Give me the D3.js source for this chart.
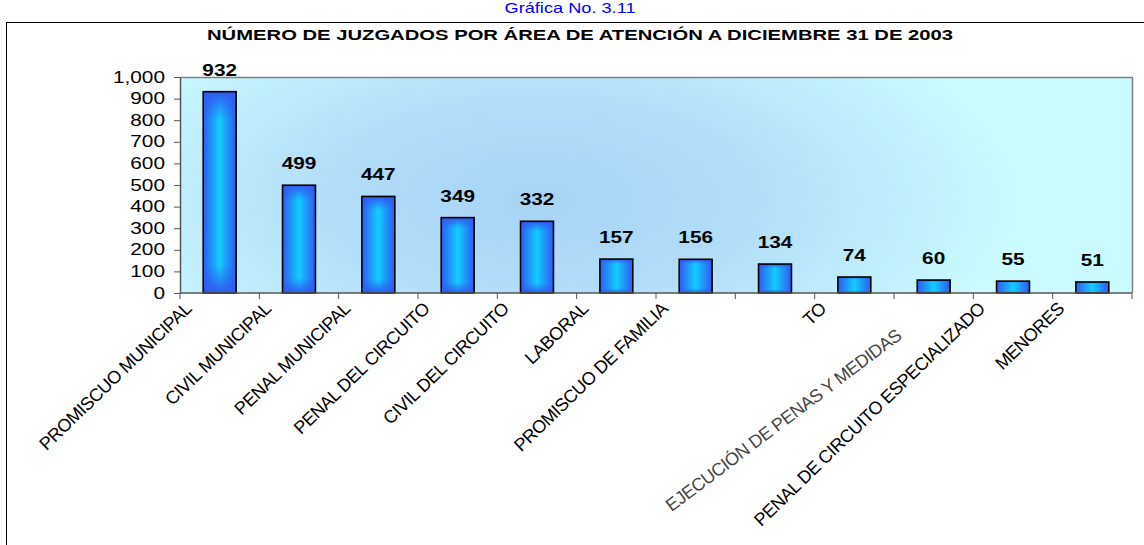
<!DOCTYPE html>
<html>
<head>
<meta charset="utf-8">
<script src="https://cdn.jsdelivr.net/npm/d3@7"></script>
<style>
  html, body { margin: 0; padding: 0; background: #fff; }
  svg { display: block; font-family: Arial, "Liberation Sans", sans-serif; }
</style>
</head>
<body>
<div id="chart"></div>
<script>
// data
var categories = [
    "PROMISCUO MUNICIPAL", "CIVIL MUNICIPAL", "PENAL MUNICIPAL", "PENAL DEL CIRCUITO",
    "CIVIL DEL CIRCUITO", "LABORAL", "PROMISCUO DE FAMILIA", "FAMILIA",
    "PROMISCUO DEL CIRCUITO", "EJECUCIÓN DE PENAS Y MEDIDAS",
    "PENAL DE CIRCUITO ESPECIALIZADO", "MENORES"
];
var values = [932, 499, 447, 349, 332, 157, 156, 134, 74, 60, 55, 51];
var yTicks = [0, 100, 200, 300, 400, 500, 600, 700, 800, 900, 1000];
var title = "NÚMERO DE JUZGADOS POR ÁREA DE ATENCIÓN A DICIEMBRE 31 DE 2003";
var caption = "Gráfica No. 3.11";

var width = 1144, height = 545;
var plot = { left: 180, right: 1132, top: 77, bottom: 293 };
var stretch = 1.3;   // the original picture is stretched sideways

var svg = d3.select("#chart").append("svg")
    .attr("width", width)
    .attr("height", height);

var defs = svg.append("defs");

/* plot background: cyan with a soft blue cloud */
var bg = defs.append("radialGradient")
    .attr("id", "bgGrad")
    .attr("gradientUnits", "userSpaceOnUse")
    .attr("cx", 540).attr("cy", 200).attr("r", 320)
    .attr("gradientTransform", "translate(540,200) scale(1.5,0.7) translate(-540,-200)");
bg.append("stop").attr("offset", "0%").attr("stop-color", "#a7d3f6");
bg.append("stop").attr("offset", "45%").attr("stop-color", "#b3def9");
bg.append("stop").attr("offset", "100%").attr("stop-color", "#cafbff");

/* bar fill: blue edges, cyan middle */
var barH = defs.append("linearGradient").attr("id", "barH")
    .attr("x1", 0).attr("x2", 1).attr("y1", 0).attr("y2", 0);
barH.append("stop").attr("offset", "0%").attr("stop-color", "#2f5af0");
barH.append("stop").attr("offset", "50%").attr("stop-color", "#12cdfe");
barH.append("stop").attr("offset", "100%").attr("stop-color", "#2f5af0");

var barV = defs.append("linearGradient").attr("id", "barV")
    .attr("x1", 0).attr("x2", 0).attr("y1", 0).attr("y2", 1);
barV.append("stop").attr("offset", "0%").attr("stop-color", "#2f5af0").attr("stop-opacity", 1);
barV.append("stop").attr("offset", "14%").attr("stop-color", "#2f5af0").attr("stop-opacity", 0);
barV.append("stop").attr("offset", "86%").attr("stop-color", "#2f5af0").attr("stop-opacity", 0);
barV.append("stop").attr("offset", "100%").attr("stop-color", "#2f5af0").attr("stop-opacity", 1);

/* frame */
svg.append("line").attr("x1", 6).attr("x2", width).attr("y1", 22.5).attr("y2", 22.5)
    .attr("stroke", "#000");
svg.append("line").attr("x1", 6.5).attr("x2", 6.5).attr("y1", 22).attr("y2", height)
    .attr("stroke", "#000");

/* caption above the frame */
svg.append("text")
    .attr("transform", "translate(570,13) scale(" + stretch + ",1)")
    .attr("text-anchor", "middle")
    .attr("font-size", 14)
    .attr("fill", "#0000ff")
    .text(caption);

svg.append("text")
    .attr("x", 580).attr("y", 40)
    .attr("text-anchor", "middle")
    .attr("font-size", 14)
    .attr("font-weight", "bold")
    .attr("textLength", 746)
    .attr("lengthAdjust", "spacingAndGlyphs")
    .text(title);

var x = d3.scaleBand()
    .domain(categories)
    .range([plot.left, plot.right])
    .padding(0);

var y = d3.scaleLinear()
    .domain([0, 1000])
    .range([plot.bottom, plot.top]);

svg.append("rect")
    .attr("x", plot.left).attr("y", plot.top)
    .attr("width", plot.right - plot.left)
    .attr("height", plot.bottom - plot.top)
    .attr("fill", "url(#bgGrad)");

svg.append("path")
    .attr("d", "M" + plot.left + "," + (plot.top + 0.5) + "H" + (plot.right + 0.5) + "V" + plot.bottom)
    .attr("fill", "none")
    .attr("stroke", "#808080")
    .attr("stroke-width", 1.5);

var barW = x.bandwidth() * 0.415;
var data = categories.map((c, i) => ({ cat: c, val: values[i] }));

var bars = svg.selectAll("g.bar")
    .data(data)
    .enter()
    .append("g")
    .attr("class", "bar");

bars.append("rect")
    .attr("x", d => x(d.cat) + (x.bandwidth() - barW) / 2)
    .attr("y", d => y(d.val))
    .attr("width", barW)
    .attr("height", d => y(0) - y(d.val))
    .attr("fill", "url(#barH)");

bars.append("rect")
    .attr("x", d => x(d.cat) + (x.bandwidth() - barW) / 2)
    .attr("y", d => y(d.val))
    .attr("width", barW)
    .attr("height", d => y(0) - y(d.val))
    .attr("fill", "url(#barV)")
    .attr("stroke", "#000")
    .attr("stroke-width", 1.6);

bars.append("text")
    .attr("transform", d => "translate(" + (x(d.cat) + x.bandwidth() / 2) + "," + (y(d.val) - 16) + ") scale(" + stretch + ",1)")
    .attr("text-anchor", "middle")
    .attr("font-size", 16)
    .attr("font-weight", "bold")
    .text(d => d3.format(",")(d.val));

/* y axis */
var yAxis = d3.axisLeft(y).tickValues(yTicks).tickSize(6).tickSizeOuter(0).tickFormat(d3.format(","));
var gy = svg.append("g")
    .attr("transform", "translate(" + plot.left + ",0)")
    .call(yAxis);
gy.select(".domain").attr("stroke", "#555").attr("stroke-width", 1.5);
gy.selectAll(".tick line").attr("stroke", "#555");
gy.selectAll(".tick text")
    .attr("font-size", 16)
    .attr("font-family", "Arial, 'Liberation Sans', sans-serif")
    .attr("fill", "#000")
    .attr("x", -15 / stretch)
    .attr("transform", "scale(" + stretch + ",1)");

/* x axis: line and ticks between categories */
var bounds = categories.map(c => x(c)).concat([plot.right]);
svg.append("line")
    .attr("x1", plot.left).attr("x2", plot.right)
    .attr("y1", plot.bottom).attr("y2", plot.bottom)
    .attr("stroke", "#555").attr("stroke-width", 1.5);
svg.selectAll("line.xtick")
    .data(bounds)
    .enter()
    .append("line")
    .attr("class", "xtick")
    .attr("x1", d => d).attr("x2", d => d)
    .attr("y1", plot.bottom).attr("y2", plot.bottom + 6)
    .attr("stroke", "#555");

/* rotated category labels; some came out broken in the original */
var clip = defs.append("clipPath").attr("id", "clipFrag");
clip.append("rect").attr("x", 735).attr("y", 306).attr("width", 20).attr("height", 12);

var labels = svg.selectAll("text.cat")
    .data(data)
    .enter()
    .append("text")
    .attr("class", "cat")
    .attr("transform", (d, i) => {
        var ax = x(d.cat) + x.bandwidth() / 2 - 27, ay = 310;
        if (i === 9) { ax -= 4; ay += 28; }
        return "translate(" + ax + "," + ay + ") rotate(" + (i === 9 ? -37 : -44) + ")";
    })
    .attr("text-anchor", "end")
    .attr("font-size", 18)
    .attr("letter-spacing", -0.5)
    .attr("fill", (d, i) => i === 9 ? "#444" : "#000")
    .attr("clip-path", (d, i) => i === 7 ? "url(#clipFrag)" : null);

labels.each(function(d, i) {
    var t = d3.select(this);
    if (i === 8) {
        t.append("tspan").attr("fill-opacity", 0).text(d.cat.slice(0, -2));
        t.append("tspan").text(d.cat.slice(-2));
    } else {
        t.text(d.cat);
    }
});
</script>
</body>
</html>
